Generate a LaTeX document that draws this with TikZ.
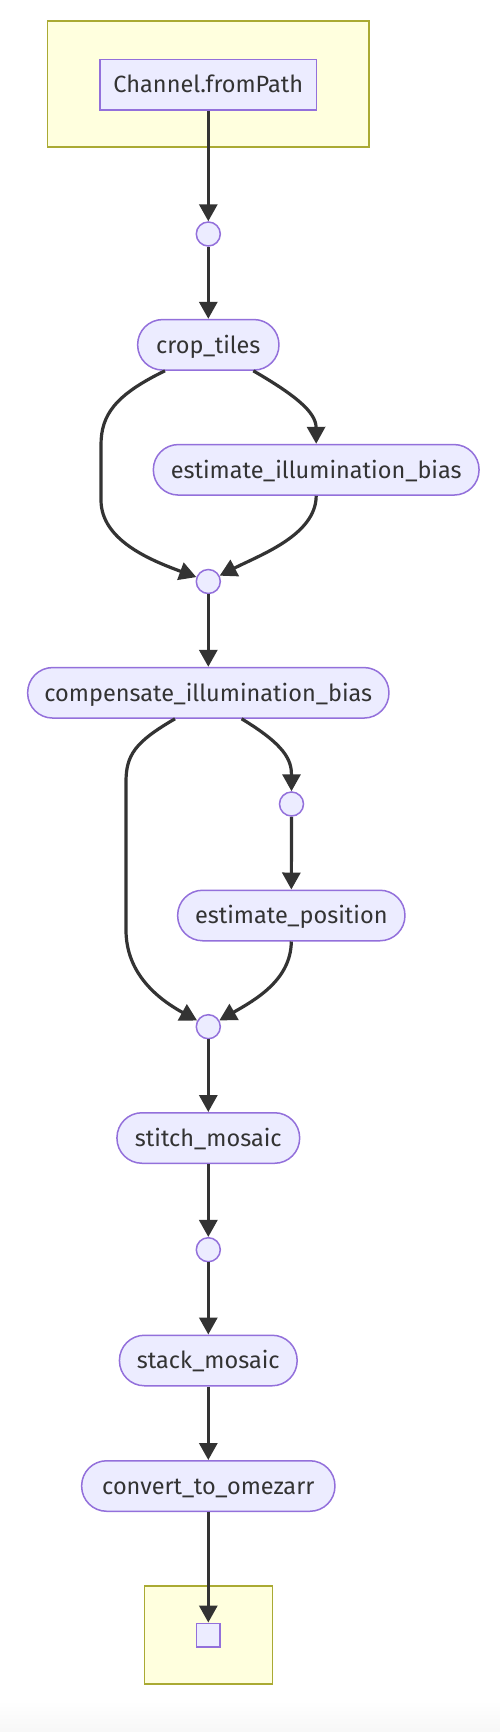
\documentclass[tikz,border=0pt]{standalone}
\usepackage{fontspec}
\setmainfont{Fira Sans}
\usetikzlibrary{arrows.meta}
\definecolor{nodefill}{HTML}{ECECFF}
\definecolor{nodeline}{HTML}{9370DB}
\definecolor{clfill}{HTML}{FFFFDE}
\definecolor{clline}{HTML}{AAAA33}
\definecolor{edgecol}{HTML}{333333}
\begin{document}
\begin{tikzpicture}[x=1pt,y=-1pt,
  base/.style={fill=nodefill, draw=nodeline, line width=1.5pt, inner sep=0pt, text=edgecol,
    font=\fontsize{23.5}{27}\selectfont, text height=16.5pt, text depth=0pt, minimum height=50.5pt},
  proc/.style={base, rounded corners=25pt},
  srcbox/.style={base},
  junc/.style={circle, fill=nodefill, draw=nodeline, line width=1.5pt, minimum size=24pt, inner sep=0pt},
  cluster/.style={fill=clfill, draw=clline, line width=1.5pt, inner sep=0pt},
  flow/.style={draw=edgecol, line width=3.2pt, -{Triangle[length=17pt,width=18pt]}},
]
\path[use as bounding box, fill=white] (0,0) rectangle (500,1732);
\shade[top color=white, bottom color=black!3] (0,1700) rectangle (500,1732);

\node[cluster, minimum width=321.5pt, minimum height=126pt] (cl1) at (208.25,84) {};
\node[cluster, minimum width=128.4pt, minimum height=98pt] (cl2) at (208.5,1635) {};

\node[srcbox, minimum width=216.7pt, minimum height=50.7pt] (chan) at (208.3,84.6) {Channel.fromPath};
\node[junc] (c1) at (208.3,234) {};
\node[proc, minimum width=141.3pt] (crop) at (208.3,344.8) {crop\_tiles};
\node[proc, minimum width=325.7pt] (est) at (316.2,469.8) {estimate\_illumination\_bias};
\node[junc] (c2) at (208.3,581.5) {};
\node[proc, minimum width=361.3pt] (comp) at (208.3,692.8) {compensate\_illumination\_bias};
\node[junc] (c5) at (291.5,804) {};
\node[proc, minimum width=227.3pt] (estpos) at (291.3,915.5) {estimate\_position};
\node[junc] (c3) at (208.3,1026.7) {};
\node[proc, minimum width=182.7pt] (stitch) at (208.3,1138) {stitch\_mosaic};
\node[junc] (c4) at (208.3,1249.7) {};
\node[proc, minimum width=177.7pt] (stack) at (208.3,1360.5) {stack\_mosaic};
\node[proc, minimum width=253.3pt] (convert) at (208.3,1486) {convert\_to\_omezarr};
\node[srcbox, minimum width=23.5pt, minimum height=23.5pt] (sq) at (208.3,1635) {};

\draw[flow] (chan) -- (c1);
\draw[flow] (c1) -- (crop);
\draw[flow] ([xshift=-43.3pt]crop.south) .. controls (115,395) and (101,415) .. (101,445)
   -- (101,500) .. controls (101,540) and (150,560) .. (c2);
\draw[flow] ([xshift=45pt]crop.south) .. controls (295,395) and (316,412) .. (est.north);
\draw[flow] (est.south) .. controls (316,535) and (260,555) .. (c2);
\draw[flow] (c2) -- (comp);
\draw[flow] ([xshift=-33.3pt]comp.south) .. controls (135,742) and (126,755) .. (126,782)
   -- (126,930) .. controls (126,975) and (160,1000) .. (c3);
\draw[flow] ([xshift=33.3pt]comp.south) .. controls (285,745) and (291.5,760) .. (c5);
\draw[flow] (c5) -- (estpos);
\draw[flow] (estpos.south) .. controls (291,980) and (255,1000) .. (c3);
\draw[flow] (c3) -- (stitch);
\draw[flow] (stitch) -- (c4);
\draw[flow] (c4) -- (stack);
\draw[flow] (stack) -- (convert);
\draw[flow] (convert) -- (sq);
\end{tikzpicture}
\end{document}
